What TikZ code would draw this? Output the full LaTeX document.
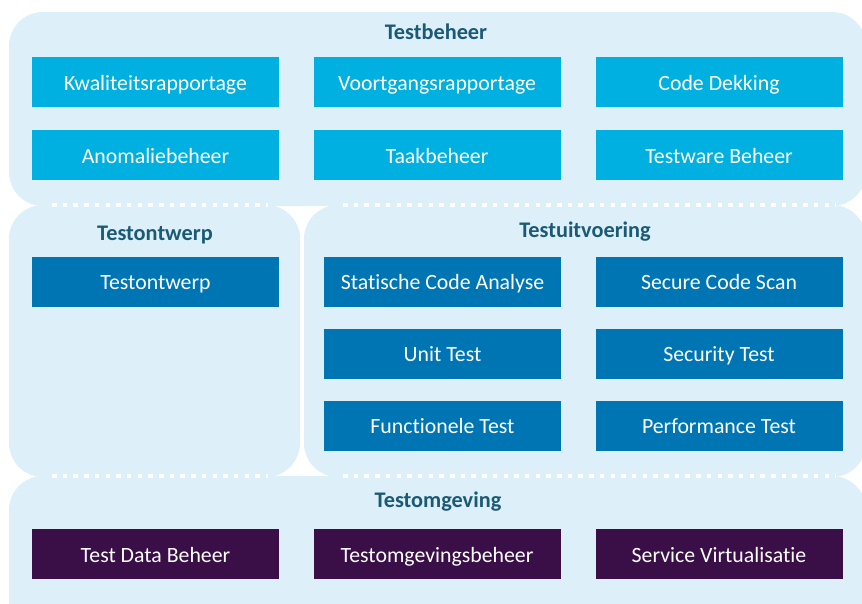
\documentclass[tikz,border=0pt]{standalone}
\usepackage{fontspec}
\setmainfont{Carlito}[Ligatures=NoCommon]
\definecolor{panel}{HTML}{DDEFF9}
\definecolor{cyanbox}{HTML}{00B0E0}
\definecolor{bluebox}{HTML}{0075B4}
\definecolor{purplebox}{HTML}{3A0E46}
\definecolor{titlecol}{HTML}{1B5A75}
\begin{document}
\begin{tikzpicture}[x=1pt,y=-1pt,
  panelbox/.style={fill=panel, rounded corners=34pt},
  item/.style={minimum height=50pt, inner sep=0pt, text=white, text height=16pt, text depth=0pt, font=\fontsize{21.8}{24}\selectfont},
  wide/.style={item, minimum width=247pt},
  narrow/.style={item, minimum width=237pt},
  topbox/.style={wide, fill=cyanbox},
  midbox/.style={fill=bluebox},
  lowbox/.style={wide, fill=purplebox},
  paneltitle/.style={text=titlecol, font=\fontsize{22.3}{24}\selectfont\bfseries, inner sep=0pt, text height=15pt, text depth=0pt},
  sep/.style={white, line width=4.5pt, dash pattern=on 4.5pt off 6.2pt}
]
\clip (0,0) rectangle (862,603);
\fill[white] (0,0) rectangle (862,603);
% panels
\path[panelbox] (9,12) rectangle (866,206);
\path[panelbox] (9,205) rectangle (300,477);
\path[panelbox] (304,205) rectangle (866,477);
\path[panelbox] (9,476) rectangle (866,640);
% separators
\coordinate (s1a) at (52,205); \coordinate (s1b) at (268,205);
\coordinate (s2a) at (343,205); \coordinate (s2b) at (836,205);
\coordinate (s3a) at (52,476); \coordinate (s3b) at (268,476);
\coordinate (s4a) at (343,476); \coordinate (s4b) at (836,476);
\coordinate (v1a) at (302,242); \coordinate (v1b) at (302,430);
\draw[sep] (s1a) -- (s1b);
\draw[sep] (s2a) -- (s2b);
\draw[sep] (s3a) -- (s3b);
\draw[sep] (s4a) -- (s4b);
\draw[sep] (v1a) -- (v1b);
% titles
\node[paneltitle] (t1) at (436,32) {Testbeheer};
\node[paneltitle] (t2) at (155,233) {Testontwerp};
\node[paneltitle] (t3) at (585,230) {Testuitvoering};
\node[paneltitle] (t4) at (438,500) {Testomgeving};
% Testbeheer
\node[topbox] (b11) at (155.5,82) {Kwaliteitsrapportage};
\node[topbox] (b12) at (437,82) {Voortgangsrapportage};
\node[topbox] (b13) at (719,82) {Code Dekking};
\node[topbox] (b21) at (155.5,155) {Anomaliebeheer};
\node[topbox] (b22) at (437,155) {Taakbeheer};
\node[topbox] (b23) at (719,155) {Testware Beheer};
% Testontwerp
\node[wide, midbox] (o1) at (155.5,281.5) {Testontwerp};
% Testuitvoering
\node[narrow, midbox] (u11) at (442.5,281.5) {Statische Code Analyse};
\node[wide, midbox] (u12) at (719,281.5) {Secure Code Scan};
\node[narrow, midbox] (u21) at (442.5,353.5) {Unit Test};
\node[wide, midbox] (u22) at (719,353.5) {Security Test};
\node[narrow, midbox] (u31) at (442.5,425.5) {Functionele Test};
\node[wide, midbox] (u32) at (719,425.5) {Performance Test};
% Testomgeving
\node[lowbox] (e1) at (155.5,554) {Test Data Beheer};
\node[lowbox] (e2) at (437,554) {Testomgevingsbeheer};
\node[lowbox] (e3) at (719,554) {Service Virtualisatie};
\end{tikzpicture}
\end{document}
